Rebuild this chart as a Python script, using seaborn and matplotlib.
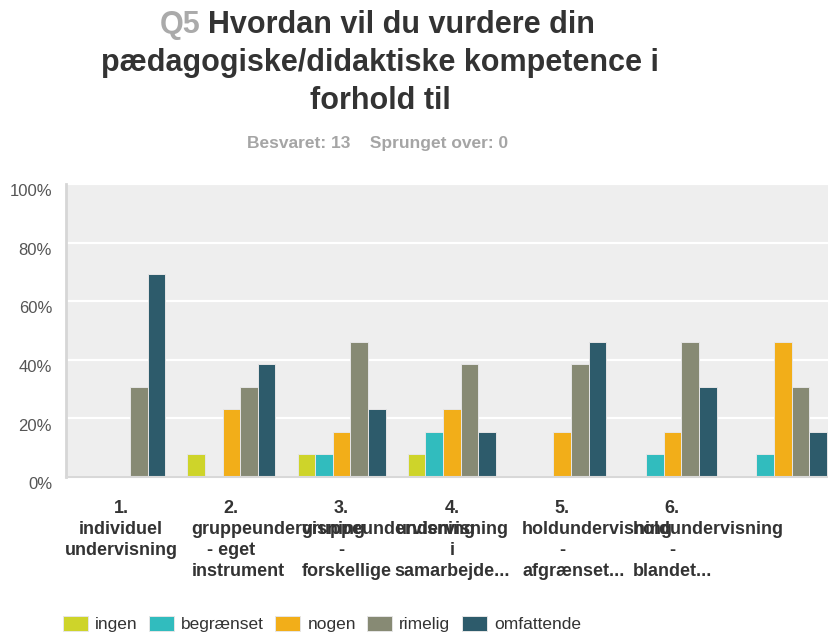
import pandas as pd
import matplotlib.pyplot as plt
import matplotlib.transforms as mtransforms
import seaborn as sns

# Kategorier (x-akse) og svarmuligheder
categories = [
    "1.\nindividuel\nundervisning",
    "2.\ngruppeundervisning\n- eget\ninstrument",
    "3.\ngruppeundervisning\n-\nforskellige",
    "4.\nundervisning\ni\nsamarbejde...",
    "5.\nholdundervisning\n-\nafgrænset...",
    "6.\nholdundervisning\n-\nblandet...",
    "",
]
levels = ["ingen", "begrænset", "nogen", "rimelig", "omfattende"]

# Andel i procent (13 besvarelser)
ingen = [0, 7.69, 7.69, 7.69, 0, 0, 0]
begraenset = [0, 0, 7.69, 15.38, 0, 7.69, 7.69]
nogen = [0, 23.08, 15.38, 23.08, 15.38, 15.38, 46.15]
rimelig = [30.77, 30.77, 46.15, 38.46, 38.46, 46.15, 30.77]
omfattende = [69.23, 38.46, 23.08, 15.38, 46.15, 30.77, 15.38]

yticks = [0, 20, 40, 60, 80, 100]
colors = ["#CED42A", "#31BCBE", "#F2AE19", "#878A74", "#2D5B6B"]

rows = []
for lvl, vals in zip(levels, [ingen, begraenset, nogen, rimelig, omfattende]):
    for cat, v in zip(categories, vals):
        rows.append({"kategori": cat, "svar": lvl, "procent": v})
df = pd.DataFrame(rows)

plt.rcParams['font.family'] = ['Liberation Sans', 'DejaVu Sans']

fig = plt.figure(figsize=(8.29, 6.34), dpi=100)
ax = fig.add_axes([66 / 829, 157 / 634, 763 / 829, 293 / 634])
ax.set_facecolor("#EEEEEE")

sns.barplot(data=df, x="kategori", y="procent", hue="svar", order=categories,
            hue_order=levels, palette=colors, saturation=1, width=0.8,
            edgecolor="#e6e6e6", linewidth=0.7, ax=ax)

handles, labels = ax.get_legend_handles_labels()
ax.get_legend().remove()

ax.set_xlim(-0.5, 6.42)
ax.set_ylim(0, 100)
ax.set_yticks(yticks)
ax.set_yticklabels([f"{t}%" for t in yticks])
ax.set_xlabel("")
ax.set_ylabel("")
ax.grid(axis="y", color="white", linewidth=1.6)
ax.set_axisbelow(True)
for side in ["top", "right"]:
    ax.spines[side].set_visible(False)
ax.spines["left"].set_color("#d6d6d6")
ax.spines["left"].set_linewidth(2)
ax.spines["bottom"].set_color("#d8d8d8")
ax.spines["bottom"].set_linewidth(1.5)

ax.tick_params(axis="y", length=0, pad=10, labelsize=12, labelcolor="#555555")
ax.tick_params(axis="x", length=0, labelbottom=False)
offset = mtransforms.ScaledTranslation(0, -4.5 / 72, fig.dpi_scale_trans)
for lab in ax.get_yticklabels():
    lab.set_transform(lab.get_transform() + offset)

# x-etiketter: linjer som er for brede til pladsen starter ved venstre kant
# (som i det oprindelige diagram), resten centreres
renderer = fig.canvas.get_renderer()
base = mtransforms.blended_transform_factory(ax.transData, ax.transAxes)
lab_kw = dict(fontsize=13, fontweight="bold", color="#333333", va="baseline")
for i, cat in enumerate(categories):
    lines = cat.split("\n")
    widths = []
    for line in lines:
        t = fig.text(0, 0, line, **lab_kw)
        widths.append(t.get_window_extent(renderer).width)
        t.remove()
    overflow = max(widths) > 130
    for j, (line, w) in enumerate(zip(lines, widths)):
        if overflow and w > 88:
            ha, dx = "left", -40
        else:
            ha, dx = "center", 0
        dy = -(36 + 21 * j)
        tr = base + mtransforms.ScaledTranslation(dx / 100, dy / 100, fig.dpi_scale_trans)
        ax.text(i, 0, line, transform=tr, ha=ha, **lab_kw)

# Titel
q5 = fig.text(160 / 829, 1 - 33 / 634, "Q5", fontsize=22, fontweight="bold",
              color="#aaaaaa", ha="left", va="baseline")
ax.annotate("Hvordan vil du vurdere din", xy=(1, 0), xycoords=q5,
            xytext=(5, 0), textcoords="offset points", fontsize=22,
            fontweight="bold", color="#333333", ha="left", va="bottom")
fig.text(380 / 829, 1 - 71 / 634, "pædagogiske/didaktiske kompetence i",
         fontsize=22, fontweight="bold", color="#333333", ha="center", va="baseline")
fig.text(380 / 829, 1 - 109 / 634, "forhold til",
         fontsize=22, fontweight="bold", color="#333333", ha="center", va="baseline")
fig.text(378 / 829, 1 - 148 / 634, "Besvaret: 13    Sprunget over: 0",
         fontsize=12.5, fontweight="bold", color="#a5a5a5", ha="center", va="baseline")

fig.legend(handles, labels, loc="center left", bbox_to_anchor=(63 / 829, 10 / 634),
           ncol=5, frameon=False, fontsize=12.5, handlelength=1.45, handleheight=1.0,
           handletextpad=0.4, columnspacing=0.65, borderpad=0, borderaxespad=0,
           labelcolor="#333333")

fig.savefig("out.png", dpi=100)
